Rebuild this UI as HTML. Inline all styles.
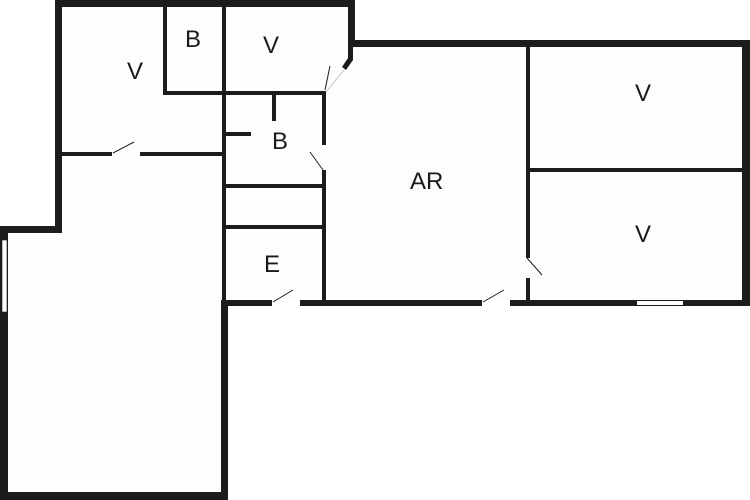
<!DOCTYPE html>
<html><head><style>html,body{margin:0;padding:0;background:#fff}svg{display:block}text{font-family:"Liberation Sans",sans-serif;font-size:24px;fill:#1a1a1a}</style></head>
<body>
<svg width="750" height="500" viewBox="0 0 750 500" xmlns="http://www.w3.org/2000/svg">
<rect width="750" height="500" fill="#fff"/>
<polygon points="62,7 348,7 348,60 325,91 325,300 742,300 742,47 355,47 355,7 62,7" fill="#fefdfc"/>
<rect x="8" y="233" width="213" height="260" fill="#fefdfc"/>
<rect x="62" y="7" width="160" height="230" fill="#fefdfc"/>
<rect x="222" y="7" width="126" height="85" fill="#fefdfc"/>
<rect x="222" y="7" width="103" height="293" fill="#fefdfc"/>
<g fill="#1c1c1c">
<rect x="55" y="0" width="300" height="7"/>
<rect x="55" y="0" width="7" height="233"/>
<rect x="0" y="226" width="62" height="7"/>
<rect x="0" y="226" width="8" height="274"/>
<rect x="0" y="492" width="228" height="8"/>
<rect x="221" y="300" width="7" height="200"/>
<rect x="348" y="0" width="7" height="47"/>
<rect x="348" y="40" width="402" height="7"/>
<rect x="742" y="40" width="8" height="266"/>
<rect x="221" y="300" width="51" height="6"/>
<rect x="300" y="300" width="182" height="6"/>
<rect x="510" y="300" width="240" height="6"/>
<rect x="348" y="45" width="5" height="15"/>
<polygon points="353,60 346,70 342,67 348,58"/>
<rect x="222" y="0" width="4" height="300"/>
<rect x="163" y="0" width="4" height="95"/>
<rect x="163" y="91" width="163" height="4"/>
<rect x="322" y="91" width="4" height="54"/>
<rect x="322" y="170" width="4" height="132"/>
<rect x="62" y="152" width="50" height="4"/>
<rect x="140" y="152" width="84" height="4"/>
<rect x="272" y="95" width="4" height="26"/>
<rect x="226" y="132" width="25" height="4"/>
<rect x="226" y="184" width="98" height="4"/>
<rect x="226" y="225" width="98" height="4"/>
<rect x="526" y="47" width="4" height="211"/>
<rect x="526" y="278" width="4" height="24"/>
<rect x="529" y="168" width="214" height="4"/>
</g>
<rect x="2" y="240" width="5" height="72" fill="#fff" stroke="#1c1c1c" stroke-width="0.6"/>
<rect x="637" y="301" width="46" height="4" fill="#fff"/>
<g stroke="#1c1c1c" stroke-width="1" fill="none">
<line x1="113" y1="153" x2="134" y2="142"/>
<line x1="273" y1="302" x2="293" y2="290"/>
<line x1="483" y1="302" x2="504" y2="290"/>
<line x1="323" y1="170" x2="310" y2="152"/>
<line x1="527" y1="258" x2="542" y2="275"/>
<line x1="325" y1="90" x2="330" y2="66"/>
<line x1="326" y1="92" x2="344" y2="70" stroke="#ccc"/>
</g>
<text x="127" y="79">V</text>
<text x="185" y="47">B</text>
<text x="263" y="53">V</text>
<text x="272" y="149">B</text>
<text x="410" y="189">AR</text>
<text x="635" y="101">V</text>
<text x="635" y="242">V</text>
<text x="264" y="272">E</text>
</svg>
</body></html>
